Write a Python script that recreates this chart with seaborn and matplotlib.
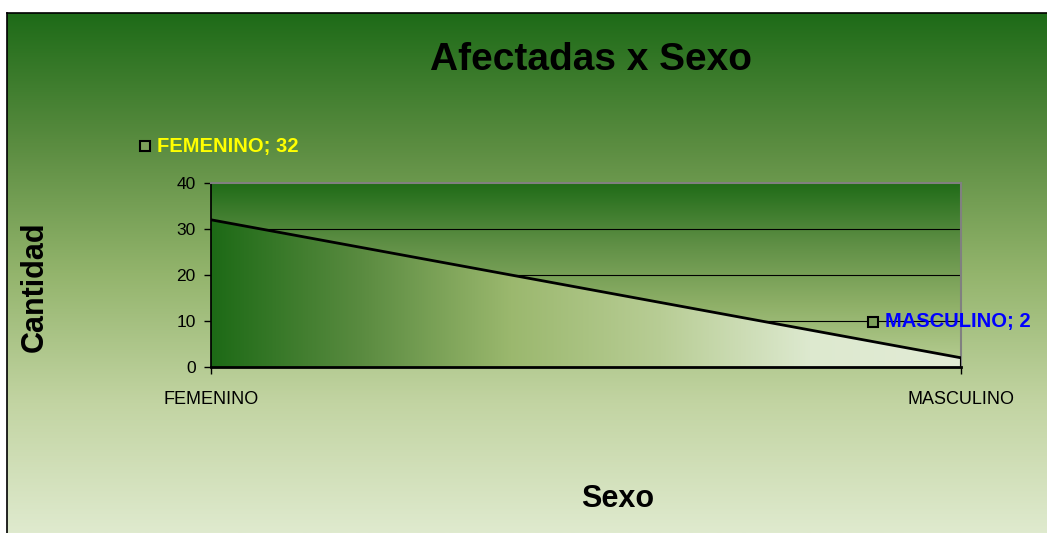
import numpy as np
import pandas as pd
import matplotlib.pyplot as plt
import seaborn as sns
from matplotlib.colors import LinearSegmentedColormap

# ---------------- DATA ----------------
sexo = ["FEMENINO", "MASCULINO"]
cantidad = [32, 2]
y_ticks = [0, 10, 20, 30, 40]

df = pd.DataFrame({"sexo": sexo, "cantidad": cantidad})
df["pos"] = range(len(df))

sns.set_theme(style="white")
plt.rcParams["font.family"] = ["Liberation Sans", "DejaVu Sans"]
plt.rcParams["text.color"] = "black"
plt.rcParams["xtick.color"] = "black"
plt.rcParams["ytick.color"] = "black"

W, H = 1047, 533
fig = plt.figure(figsize=(W / 100, H / 100), dpi=100)
fig.patch.set_facecolor("white")

# ---------------- FIGURE BACKGROUND ----------------
bg_cmap = LinearSegmentedColormap.from_list(
    "bg", ["#1e6b18", "#5a8c40", "#93b46c", "#c2d4a2", "#dfeace"])
bg = fig.add_axes([7 / W, 0, 1 - 7 / W, 1 - 13 / H])
bg.imshow(np.linspace(0, 1, 256).reshape(-1, 1), aspect="auto", cmap=bg_cmap,
          extent=[0, 1, 0, 1])
bg.set_xlim(0, 1)
bg.set_ylim(0, 1)
bg.set_xticks([])
bg.set_yticks([])
for s in ["right", "bottom"]:
    bg.spines[s].set_visible(False)
for s in ["left", "top"]:
    bg.spines[s].set_color("black")
    bg.spines[s].set_linewidth(1.2)

# ---------------- PLOT AREA ----------------
ax = fig.add_axes([211 / W, 1 - 367 / H, 750 / W, 184 / H])
ax.set_xlim(0, len(sexo) - 1)
ax.set_ylim(0, 40)

top_cmap = LinearSegmentedColormap.from_list(
    "top", ["#1f6b17", "#5f8f45", "#8fb068", "#b9cf95"])
ax.imshow(np.linspace(0, 1, 256).reshape(-1, 1), aspect="auto", cmap=top_cmap,
          extent=[0, 1, 0, 40], zorder=0)

# gridlines sit under the area fill
for v in y_ticks[1:-1]:
    ax.axhline(v, color="black", lw=0.8, zorder=0.5)

# area under line with horizontal gradient
poly = ax.fill_between(df["pos"], df["cantidad"], 0, color="none", zorder=1)
area_cmap = LinearSegmentedColormap.from_list(
    "area", ["#1d6a16", "#5a8b40", "#9bb86e", "#b8cd95", "#dde9cf", "#e3ecd6"])
img = ax.imshow(np.linspace(0, 1, 256).reshape(1, -1), aspect="auto", cmap=area_cmap,
                extent=[0, 1, 0, 40], zorder=1)
img.set_clip_path(poly.get_paths()[0], transform=ax.transData)

sns.lineplot(data=df, x="pos", y="cantidad", color="black", lw=2, ax=ax, zorder=3)
ax.vlines(df["pos"].iloc[-1], 0, df["cantidad"].iloc[-1], color="black", lw=1.5, zorder=3)

ax.set_xticks(df["pos"])
ax.set_xticklabels(sexo, fontsize=13)
ax.set_yticks(y_ticks)
ax.set_yticklabels([str(v) for v in y_ticks], fontsize=12.5)
ax.tick_params(axis="both", direction="out", length=5, width=1, color="black",
               labelcolor="black", bottom=True, left=True, pad=6)
ax.tick_params(axis="x", pad=12)
ax.set_xlabel("")
ax.set_ylabel("")
ax.spines["left"].set_color("black")
ax.spines["bottom"].set_color("black")
ax.spines["bottom"].set_linewidth(2)
ax.spines["top"].set_color("#808080")
ax.spines["right"].set_color("#808080")
ax.spines["top"].set_linewidth(1.5)
ax.spines["right"].set_linewidth(1.5)

# ---------------- DATA LABELS ----------------
labels = [
    (sexo[0], cantidad[0], -0.088, 48.0, "#ffff00"),
    (sexo[1], cantidad[1], 0.883, 9.8, "#0000ff"),
]
for name, val, lx, ly, col in labels:
    ax.plot(lx, ly, marker="s", markersize=7.5, markerfacecolor="#7da05a",
            markeredgecolor="black", markeredgewidth=1.5, clip_on=False, zorder=5)
    ax.text(lx + 0.016, ly, f"{name}; {val}", color=col, fontsize=14.5,
            fontweight="bold", ha="left", va="center", clip_on=False, zorder=5)

# ---------------- TITLES ----------------
fig.text(591 / W, 1 - 60 / H, "Afectadas x Sexo", fontsize=28, fontweight="bold",
         ha="center", va="center", color="black")
fig.text(35 / W, 1 - 287 / H, "Cantidad", fontsize=22, fontweight="bold",
         ha="center", va="center", rotation=90, color="black")
fig.text(618 / W, 1 - 499 / H, "Sexo", fontsize=22, fontweight="bold",
         ha="center", va="center", color="black")

fig.savefig("out.png", dpi=100, facecolor=fig.get_facecolor())
